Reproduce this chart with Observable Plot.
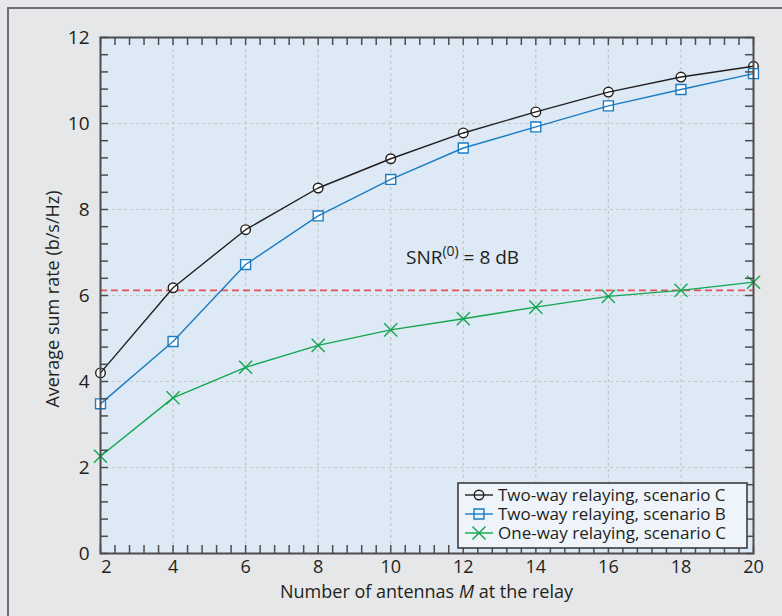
<!DOCTYPE html>
<html>
<head>
<meta charset="utf-8">
<script src="https://cdn.jsdelivr.net/npm/d3@7"></script>
<script src="https://cdn.jsdelivr.net/npm/@observablehq/plot@0.6"></script>
<style>
  html, body { margin: 0; padding: 0; background: #e6e7e8; }
  #wrap { position: relative; width: 782px; height: 616px; background: #e6e7e8; overflow: hidden; font-family: "Open Sans", sans-serif; }
  #border { position: absolute; left: 7px; top: 7px; right: -10px; bottom: -10px; border-left: 2px solid #6d6e71; border-top: 2px solid #6d6e71; }
  #chart { position: absolute; left: 0; top: 0; }
  #legend { position: absolute; left: 457px; top: 482px; }
</style>
</head>
<body>
<div id="wrap">
  <div id="border"></div>
  <div id="chart"></div>
  <div id="legend"></div>
</div>
<script>
// ---- data ----
const antennas = [2, 4, 6, 8, 10, 12, 14, 16, 18, 20];
const twoWayC = [4.20, 6.18, 7.53, 8.50, 9.18, 9.78, 10.27, 10.73, 11.08, 11.33];
const twoWayB = [3.48, 4.93, 6.72, 7.85, 8.70, 9.43, 9.92, 10.41, 10.79, 11.16];
const oneWayC = [2.26, 3.62, 4.33, 4.84, 5.20, 5.46, 5.73, 5.98, 6.12, 6.31];
const thresholdValue = 6.12;
const seriesNames = ["Two-way relaying, scenario C", "Two-way relaying, scenario B", "One-way relaying, scenario C"];
const xTickValues = [2, 4, 6, 8, 10, 12, 14, 16, 18, 20];
const yTickValues = [0, 2, 4, 6, 8, 10, 12];
const xGridValues = [4, 6, 8, 10, 12, 14, 16, 18];
const yGridValues = [2, 4, 6, 8, 10];
const annotation = {x: 10.42, y: 6.88, text: "SNR(0) = 8 dB"};

const colors = ["#231f20", "#1b7cc4", "#13a650"];
const symbols = ["circle", "square", "times"];
const radii = [4.8, 5.6, 6];
const seriesValues = [twoWayC, twoWayB, oneWayC];

const series = seriesValues.map((vals, i) =>
  antennas.map((m, j) => ({m, v: vals[j], s: seriesNames[i]})));

const xMinor = d3.range(0, 46).map(i => 2 + i * 0.4);
const yMinor = d3.range(0, 31).map(i => i * 0.4);

const W = 782, H = 616, mL = 100, mR = 29, mT = 37, mB = 63;
const pw = W - mL - mR, ph = H - mT - mB;
const tick = 8;
const axisColor = "#4d4d4f";
const textColor = "#231f20";

const marks = [
  Plot.frame({fill: "#dde9f4", stroke: "none"}),
  Plot.gridX(xGridValues, {stroke: "#c4c6c8", strokeOpacity: 1, strokeDasharray: "3,3", strokeWidth: 1.2}),
  Plot.gridY(yGridValues, {stroke: "#c4c6c8", strokeOpacity: 1, strokeDasharray: "3,3", strokeWidth: 1.2}),
  Plot.ruleY([thresholdValue], {stroke: "#e8505c", strokeWidth: 1.6, strokeDasharray: "7,4"}),
];
series.forEach((d, i) => {
  marks.push(Plot.dot(d, {x: "m", y: "v", symbol: () => symbols[i], r: radii[i],
    stroke: colors[i], strokeWidth: 1.4, fill: i === 2 ? "none" : "white"}));
  marks.push(Plot.line(d, {x: "m", y: "v", stroke: colors[i], strokeWidth: 1.4}));
});
marks.push(
  Plot.text([annotation], {x: "x", y: "y", text: "text", textAnchor: "start", fontSize: 19, fill: textColor}),
  // inward ticks on all four sides
  Plot.tickX(xMinor, {x: d => d, insetTop: ph - tick, stroke: axisColor, strokeWidth: 1.5}),
  Plot.tickX(xMinor, {x: d => d, insetBottom: ph - tick, stroke: axisColor, strokeWidth: 1.5}),
  Plot.tickY(yMinor, {y: d => d, insetRight: pw - tick, stroke: axisColor, strokeWidth: 1.5}),
  Plot.tickY(yMinor, {y: d => d, insetLeft: pw - tick, stroke: axisColor, strokeWidth: 1.5}),
  Plot.frame({stroke: axisColor, strokeWidth: 2}),
  Plot.axisX(xTickValues.filter(v => v !== 2), {tickSize: 0, tickPadding: 7, fontSize: 18, fill: textColor, label: null}),
  Plot.axisX([2], {tickSize: 0, tickPadding: 7, fontSize: 18, fill: textColor, label: null, dx: 6}),
  Plot.axisY(yTickValues, {tickSize: 0, tickPadding: 11, fontSize: 19, fill: textColor, label: null})
);

const chart = Plot.plot({
  width: W, height: H,
  marginLeft: mL, marginRight: mR, marginTop: mT, marginBottom: mB,
  x: {domain: [2, 20]},
  y: {domain: [0, 12]},
  style: {fontFamily: "Open Sans, sans-serif", background: "transparent", overflow: "visible", color: textColor},
  marks
});

// axis titles as SVG text
const svg = d3.select(chart);
svg.append("text")
  .attr("x", mL + pw / 2).attr("y", 598)
  .attr("text-anchor", "middle")
  .attr("font-size", 18).attr("fill", textColor)
  .call(t => {
    t.append("tspan").text("Number of antennas ");
    t.append("tspan").attr("font-style", "italic").text("M");
    t.append("tspan").text(" at the relay");
  });
svg.append("text")
  .attr("transform", `translate(59,${mT + ph / 2 + 4}) rotate(-90)`)
  .attr("text-anchor", "middle")
  .attr("font-size", 18).attr("fill", textColor)
  .text("Average sum rate (b/s/Hz)");

// superscript in annotation
svg.selectAll("text").filter(function() { return this.textContent === annotation.text; })
  .each(function() {
    const t = d3.select(this);
    t.text(null);
    t.append("tspan").text("SNR");
    t.append("tspan").attr("font-size", 14).attr("dy", -8).text("(0)");
    t.append("tspan").attr("dy", 8).text(" = 8 dB");
  });

document.getElementById("chart").appendChild(chart);

// legend
const lw = 291, lh = 67;
const lg = d3.select("#legend").append("svg").attr("width", lw).attr("height", lh)
  .style("font-family", "Open Sans, sans-serif");
lg.append("rect").attr("x", 1).attr("y", 1).attr("width", lw - 2).attr("height", lh - 2)
  .attr("fill", "#eef4fa").attr("stroke", "#3d3d3f").attr("stroke-width", 1.6);
seriesNames.forEach((name, i) => {
  const cy = 13 + i * 19;
  const g = lg.append("g");
  g.append("line").attr("x1", 8).attr("x2", 36).attr("y1", cy).attr("y2", cy)
    .attr("stroke", colors[i]).attr("stroke-width", 1.4);
  const sym = {circle: d3.symbolCircle, square: d3.symbolSquare, times: d3.symbolTimes}[symbols[i]];
  g.append("path").attr("transform", `translate(22,${cy})`)
    .attr("d", d3.symbol(sym, Math.PI * radii[i] * radii[i])())
    .attr("fill", "none").attr("stroke", colors[i]).attr("stroke-width", 1.4);
  g.append("text").attr("x", 41).attr("y", cy).attr("dy", "0.36em")
    .attr("font-size", 17).attr("fill", textColor).text(name);
});
</script>
</body>
</html>
